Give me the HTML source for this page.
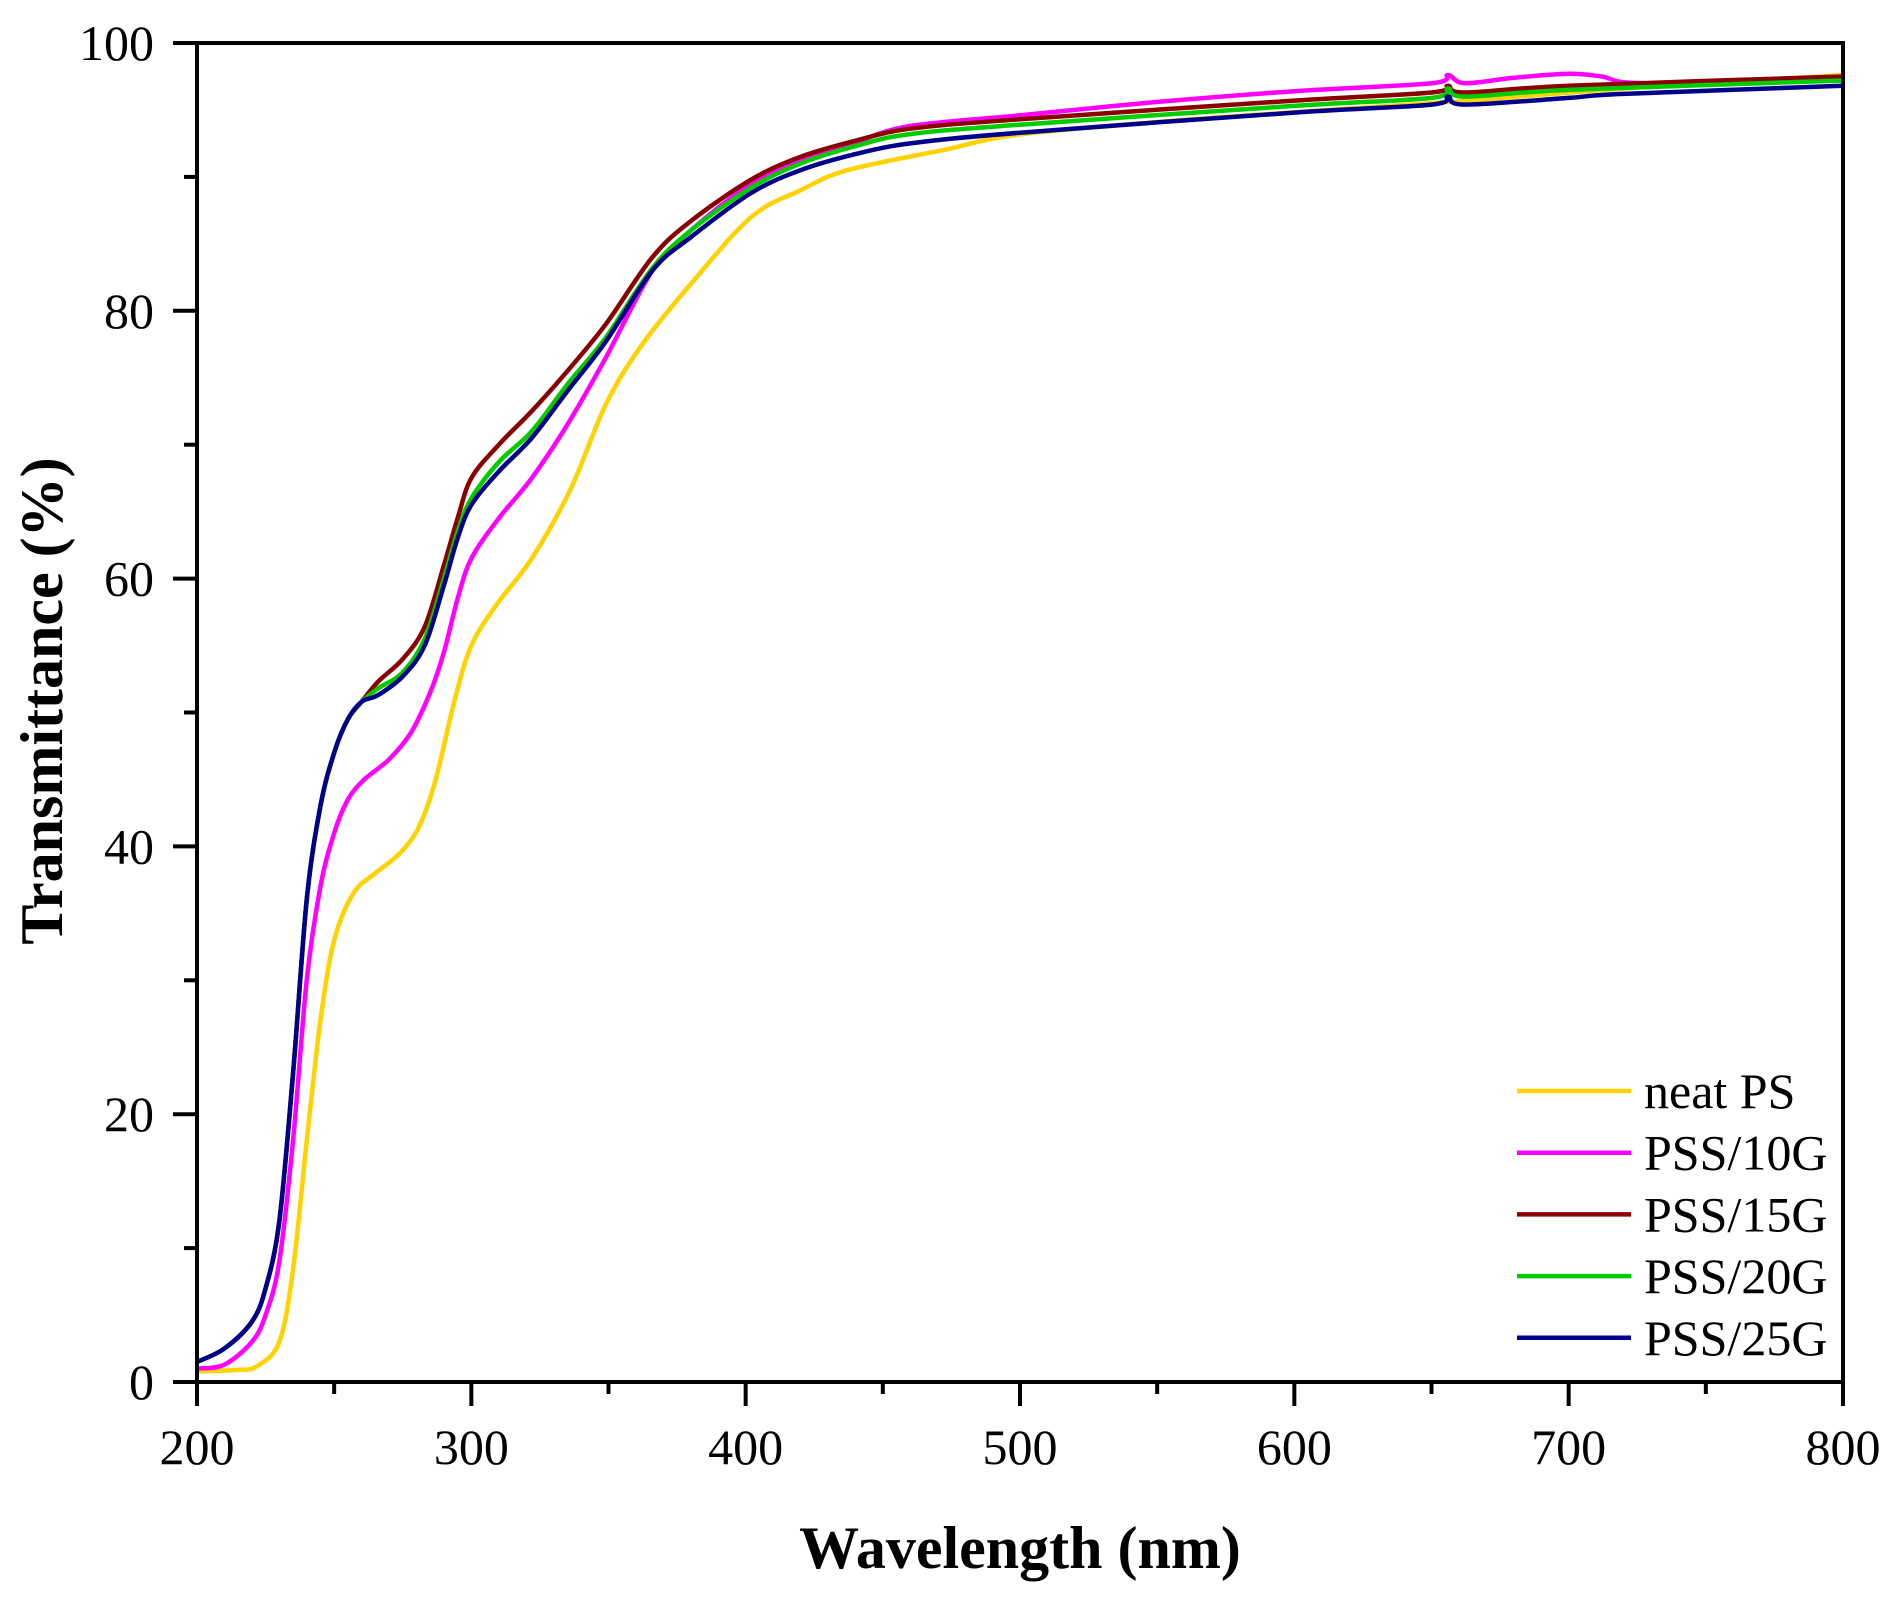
<!DOCTYPE html>
<html><head><meta charset="utf-8"><style>
html,body{margin:0;padding:0;background:#fff;}
svg{display:block;}
text{font-family:"Liberation Serif",serif;fill:#000;}
</style></head><body>
<svg id="s" width="1896" height="1598" xmlns="http://www.w3.org/2000/svg">
<g id="curves" fill="none" stroke-width="4.5" stroke-linejoin="round"></g>
<rect x="197" y="43" width="1646" height="1339" fill="none" stroke="#000" stroke-width="4"/>
<g id="ticks" stroke="#000" stroke-width="4"></g>
<g id="labels" font-size="50"></g>
<text x="1020" y="1568" font-size="60" font-weight="bold" text-anchor="middle">Wavelength (nm)</text>
<text transform="translate(62,701) rotate(-90)" font-size="60" font-weight="bold" text-anchor="middle">Transmittance (%)</text>
<g id="legend" font-size="50"></g>
</svg>
<script>
const X=w=>197+(w-200)*1646/600, Y=t=>1382-t*13.39;
const NS="http://www.w3.org/2000/svg";
function el(p,n,a,txt){const e=document.createElementNS(NS,n);for(const k in a)e.setAttribute(k,a[k]);if(txt!=null)e.textContent=txt;document.getElementById(p).appendChild(e);return e;}
const early=[[200,1.5],[210,2.5],[220,4.5],[225,7],[230,12],[235,23],[240,36],[245,43],[250,47],[255,49.5],[260,50.8]];
const series=[
["neat PS","#FFD200",[[200,0.8],[215,0.9],[222,1.2],[230,3],[235,8.4],[240,18],[245,27],[250,33],[257,36.5],[265,38],[274,39.5],[281,41.5],[287,45],[294,51],[300,55],[309,58],[322,61.5],[336,66.6],[349,73],[362,77.4],[380,82],[402,87],[420,89],[437,90.5],[472,92],[501,93.2],[569,94.4],[657,95.6],[720,96.6],[800,97.6]]],
["PSS/10G","#FF00FF",[[200,1],[210,1.3],[220,3],[225,5],[230,9],[235,18],[240,30],[245,37],[250,41],[255,43.5],[261,45],[270,46.5],[278,48.5],[285,51.5],[290,54.5],[295,58.5],[300,61.5],[310,64.5],[322,67.5],[335,71.5],[349,76.5],[366,83],[380,86],[402,89.5],[420,91.3],[440,92.6],[460,93.8],[500,94.6],[550,95.6],[600,96.4],[650,97],[656,97.6],[662,97],[680,97.4],[700,97.7],[712,97.5],[728,97],[800,97.3]]],
["PSS/15G","#8B0000",early.concat([[266,52.3],[275,54],[283,56.4],[290,61],[295,64.5],[300,67.5],[310,70],[322,72.5],[335,75.5],[349,79],[366,84],[380,86.7],[402,89.8],[420,91.5],[440,92.7],[460,93.6],[500,94.3],[600,95.7],[650,96.3],[656,96.8],[662,96.3],[700,96.8],[800,97.5]])],
["PSS/20G","#00CC00",early.concat([[266,51.8],[275,53],[283,55.5],[290,60],[295,63.5],[300,66],[310,68.7],[322,71],[335,74.5],[349,78],[366,83.2],[380,86],[402,89.2],[420,91],[440,92.3],[460,93.2],[500,93.9],[600,95.3],[650,95.9],[656,96.6],[662,96],[700,96.5],[800,97.2]])],
["PSS/25G","#00008B",early.concat([[266,51.3],[275,52.7],[283,55],[290,59.5],[295,63],[300,65.5],[310,68],[322,70.5],[335,74],[349,77.7],[366,83],[380,85.5],[402,88.8],[420,90.5],[440,91.7],[460,92.5],[500,93.3],[600,94.8],[650,95.4],[656,96],[662,95.4],[700,95.9],[720,96.2],[800,96.8]])]
];
series.forEach((s,i)=>{
  const p=s[2].map(q=>[X(q[0]),Y(q[1])]);
  let d="M"+p[0][0].toFixed(1)+","+p[0][1].toFixed(1);
  for(let k=0;k<p.length-1;k++){
    const p0=p[k-1]||p[k],p1=p[k],p2=p[k+1],p3=p[k+2]||p2;
    const c1=[p1[0]+(p2[0]-p0[0])/6,p1[1]+(p2[1]-p0[1])/6],c2=[p2[0]-(p3[0]-p1[0])/6,p2[1]-(p3[1]-p1[1])/6];
    d+=`C${c1[0].toFixed(1)},${c1[1].toFixed(1)} ${c2[0].toFixed(1)},${c2[1].toFixed(1)} ${p2[0].toFixed(1)},${p2[1].toFixed(1)}`;
  }
  el("curves","path",{d:d,stroke:s[1]});
  const ly=1091+i*61.7;
  el("legend","line",{x1:1517,x2:1631,y1:ly,y2:ly,stroke:s[1],"stroke-width":4.5});
  el("legend","text",{x:1644,y:ly+17},s[0]);
});
for(let w=200;w<=800;w+=50){const x=X(w),maj=w%100==0;
  el("ticks","line",{x1:x,x2:x,y1:1382,y2:1382+(maj?24:12)});
  if(maj)el("labels","text",{x:x,y:1464,"text-anchor":"middle"},w);}
for(let t=0;t<=100;t+=10){const y=Y(t),maj=t%20==0;
  el("ticks","line",{x1:197,x2:197-(maj?24:13),y1:y,y2:y});
  if(maj)el("labels","text",{x:154,y:y+17,"text-anchor":"end"},t);}
</script>
</body></html>
